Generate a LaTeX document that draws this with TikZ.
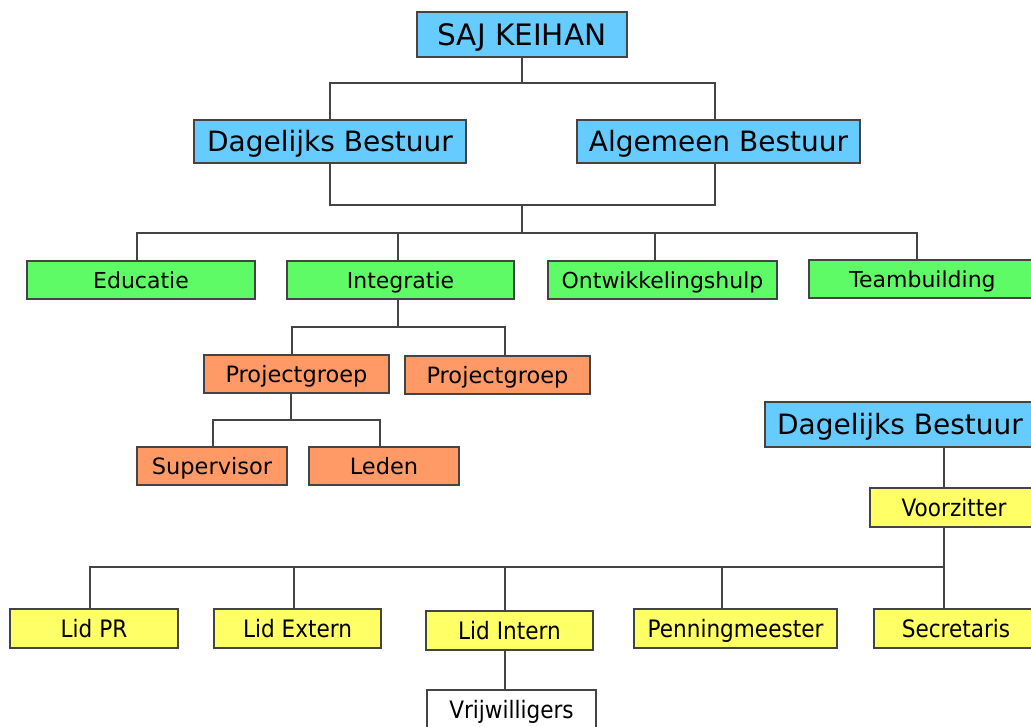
\documentclass[tikz,border=0pt]{standalone}
\usepackage{fontspec}
\setmainfont{DejaVu Sans}
\newfontfamily\condfont{DejaVu Sans}[FakeStretch=0.9]
\definecolor{cblue}{HTML}{66CCFF}
\definecolor{cgreen}{HTML}{5FFB66}
\definecolor{corange}{HTML}{FF9966}
\definecolor{cyellow}{HTML}{FFFF66}
\definecolor{cline}{HTML}{444444}
\tikzset{
  box/.style={draw=cline, line width=1.2pt, inner sep=0pt, text=black, align=center, text depth=0pt},
  bluebox/.style={box, fill=cblue, text height=20.4pt, font=\fontsize{28}{33}\selectfont},
  greenbox/.style={box, fill=cgreen, minimum height=38, text height=16pt, font=\fontsize{22}{26}\selectfont},
  orangebox/.style={box, fill=corange, minimum height=38, text height=16.4pt, font=\fontsize{22.5}{26}\selectfont},
  yellowbox/.style={box, fill=cyellow, minimum height=39, text height=17.5pt, font=\condfont\fontsize{24}{29}\selectfont},
  whitebox/.style={box, fill=white, minimum height=40, text height=17.5pt, font=\condfont\fontsize{24}{29}\selectfont},
  conn/.style={draw=cline, line width=1.2pt}
}
\begin{document}
\begin{tikzpicture}[x=1pt,y=-1pt]
\useasboundingbox (0,0) rectangle (1031,726);
\fill[white] (0,0) rectangle (1031,726);
\clip (0,0) rectangle (1031,726);

% top level
\node[bluebox, minimum width=210, minimum height=45, text height=21.5pt, font=\fontsize{29.5}{35}\selectfont] (saj) at (522,34.5) {SAJ KEIHAN};
\node[bluebox, minimum width=272, minimum height=43] (db) at (330,141.5) {Dagelijks Bestuur};
\node[bluebox, minimum width=283, minimum height=43] (ab) at (718.5,141.5) {Algemeen Bestuur};

% green level
\node[greenbox, minimum width=228] (edu) at (141,280) {Educatie};
\node[greenbox, minimum width=227] (int) at (400.5,280) {Integratie};
\node[greenbox, minimum width=229] (ont) at (662.5,280) {Ontwikkelingshulp};
\node[greenbox, minimum width=227] (team) at (922.5,279) {Teambuilding};

% orange level
\node[orangebox, minimum width=185] (pg1) at (296.5,374) {Projectgroep};
\node[orangebox, minimum width=185] (pg2) at (497.5,375) {Projectgroep};
\node[orangebox, minimum width=150] (sup) at (212,466) {Supervisor};
\node[orangebox, minimum width=150] (led) at (384,466) {Leden};

% right branch
\node[bluebox, minimum width=270, minimum height=45] (db2) at (900,424.5) {Dagelijks Bestuur};
\node[yellowbox, minimum width=168] (voor) at (954,507.5) {Voorzitter};

% yellow level
\node[yellowbox, minimum width=168] (lidpr) at (94,628.5) {Lid PR};
\node[yellowbox, minimum width=167] (lidext) at (297.5,628.5) {Lid Extern};
\node[yellowbox, minimum width=167] (lidint) at (509.5,630.5) {Lid Intern};
\node[yellowbox, minimum width=203] (penn) at (735.5,628.5) {Penningmeester};
\node[yellowbox, minimum width=164] (secr) at (956,628.5) {Secretaris};
\node[whitebox, minimum width=169] (vrij) at (511.5,710) {Vrijwilligers};

% junction coordinates
\coordinate (j1) at (522,83);
\coordinate (j2) at (522,205);
\coordinate (j3) at (522,233);
\coordinate (j4) at (398,327);
\coordinate (j5) at (291,420);
\coordinate (j6) at (944,567);

% connectors: top
\draw[conn] (saj.south) -- (j1);
\draw[conn] (j1) -| (db.north);
\draw[conn] (j1) -| ([xshift=-3.5]ab.north);
\draw[conn] (db.south) |- (j2);
\draw[conn] ([xshift=-3.5]ab.south) |- (j2);
\draw[conn] (j2) -- (j3);
\draw[conn] (j3) -| ([xshift=-4]edu.north);
\draw[conn] (j3) -| ([xshift=-2.5]int.north);
\draw[conn] (j3) -| ([xshift=-7.5]ont.north);
\draw[conn] (j3) -| ([xshift=-5.5]team.north);

% integratie branch
\draw[conn] ([xshift=-2.5]int.south) -- (j4);
\draw[conn] (j4) -| ([xshift=-4.5]pg1.north);
\draw[conn] (j4) -| ([xshift=7.5]pg2.north);
\draw[conn] ([xshift=-5.5]pg1.south) -- (j5);
\draw[conn] (j5) -| ([xshift=1]sup.north);
\draw[conn] (j5) -| ([xshift=-4]led.north);

% right branch
\draw[conn] ([xshift=44]db2.south) -- ([xshift=-10]voor.north);
\draw[conn] ([xshift=-10]voor.south) -- (j6);
\draw[conn] (j6) -| ([xshift=-4]lidpr.north);
\draw[conn] (j6) -| ([xshift=-3.5]lidext.north);
\draw[conn] (j6) -| ([xshift=-4.5]lidint.north);
\draw[conn] (j6) -| ([xshift=-13.5]penn.north);
\draw[conn] (j6) -- ([xshift=-12]secr.north);
\draw[conn] ([xshift=-4.5]lidint.south) -- ([xshift=-6.5]vrij.north);
\end{tikzpicture}
\end{document}
